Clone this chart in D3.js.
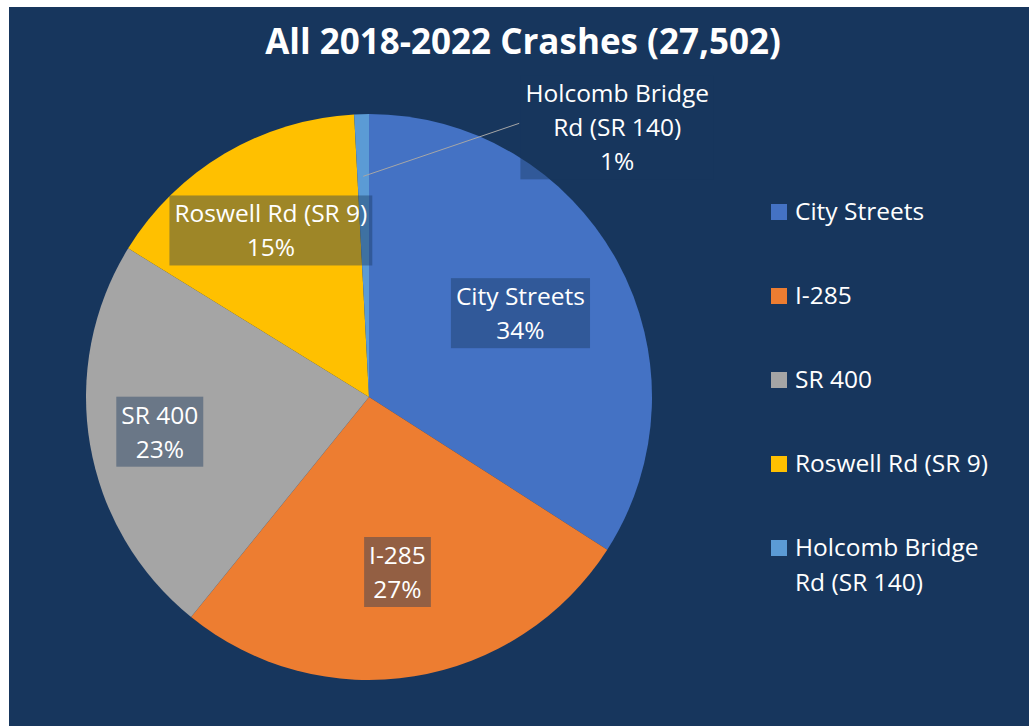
<!DOCTYPE html>
<html>
<head>
<meta charset="utf-8">
<script src="https://cdn.jsdelivr.net/npm/d3@7"></script>
<style>
  body { margin: 0; background: #fff; }
  text { font-family: 'Open Sans', 'Noto Sans', sans-serif; fill: #fff; }
</style>
</head>
<body>
<svg id="chart" width="1029" height="726"></svg>
<script>
// crash counts 2018-2022, total 27,502
let categories = ['City Streets', 'I-285', 'SR 400', 'Roswell Rd (SR 9)', 'Holcomb Bridge Rd (SR 140)']
let crashes = [9370, 7357, 6320, 4225, 230]
let colors = ['#4472C4', '#ED7D31', '#A5A5A5', '#FFC000', '#5B9BD5']
let labelLines = [['City Streets'], ['I-285'], ['SR 400'], ['Roswell Rd (SR 9)'], ['Holcomb Bridge', 'Rd (SR 140)']]
let legendLines = [['City Streets'], ['I-285'], ['SR 400'], ['Roswell Rd (SR 9)'], ['Holcomb Bridge', 'Rd (SR 140)']]

function main() {
    let svg = d3.select('#chart'),
        bg = '#17365D',
        cx = 369, cy = 397, r = 283,
        labelR = [0.61, 0.63, 0.75, 0.68, 0.78],
        fontSize = 24.5, lineH = 34

    svg.append('rect')
        .attr('x', 9).attr('y', 7)
        .attr('width', 1020).attr('height', 719)
        .attr('fill', bg)

    let total = d3.sum(crashes)

    svg.append('text')
        .attr('x', 523)
        .attr('y', 54)
        .attr('text-anchor', 'middle')
        .attr('font-size', 35)
        .attr('font-weight', 'bold')
        .text('All 2018-2022 Crashes (' + d3.format(',')(total) + ')')

    let pie = d3.pie().sort(null).value(d => d)
    let arcs = pie(crashes)
    let arc = d3.arc().innerRadius(0).outerRadius(r)

    let g = svg.append('g').attr('transform', 'translate(' + cx + ',' + cy + ')')

    g.selectAll('path')
        .data(arcs)
        .enter()
        .append('path')
        .attr('d', arc)
        .attr('fill', (d, i) => colors[i])

    // labels
    arcs.forEach((d, i) => {
        let lr = r * labelR[i]
        let c = d3.arc().innerRadius(lr).outerRadius(lr).centroid(d)
        let lines = labelLines[i].concat([Math.round(d.value * 100 / total) + '%'])
        let px = c[0], py = c[1]
        if (i === 4) {
            // small slice: label outside with a leader line
            g.append('polyline')
                .attr('points', [[c[0], c[1]], [c[0] + 156, c[1] - 53]].join(' '))
                .attr('fill', 'none')
                .attr('stroke', '#A6A6A6')
                .attr('stroke-width', 1)
            px = c[0] + 254
            py = c[1] - 48
        }
        let lg = g.append('g')
        let box = lg.append('rect')
        let t = lg.append('text')
            .attr('text-anchor', 'middle')
            .attr('font-size', fontSize)
        lines.forEach((ln, k) => {
            t.append('tspan')
                .attr('x', px)
                .attr('y', py + (k - (lines.length - 1) / 2) * lineH + 8)
                .text(ln)
        })
        let bb = t.node().getBBox()
        box.attr('x', bb.x - 5).attr('y', bb.y - 1)
            .attr('width', bb.width + 10).attr('height', bb.height + 3)
            .attr('fill', bg).attr('fill-opacity', 0.42)
    })

    // legend
    let legend = svg.append('g')
    let ly = [212, 296, 380, 464, 548]
    categories.forEach((cat, i) => {
        legend.append('rect')
            .attr('x', 771).attr('y', ly[i] - 8)
            .attr('width', 16).attr('height', 16)
            .attr('fill', colors[i])
        let t = legend.append('text').attr('font-size', fontSize)
        legendLines[i].forEach((ln, k) => {
            t.append('tspan')
                .attr('x', 795)
                .attr('y', ly[i] + 8 + k * 35)
                .text(ln)
        })
    })
}

main()
</script>
</body>
</html>
